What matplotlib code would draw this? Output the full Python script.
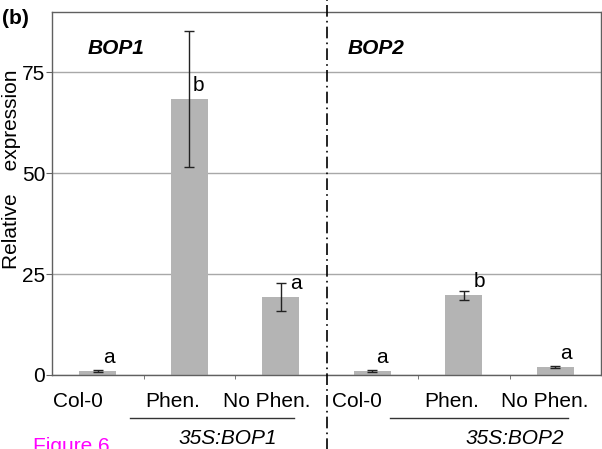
import numpy as np
import matplotlib.pyplot as plt
from matplotlib.transforms import blended_transform_factory

plt.rcParams['font.family'] = ['Liberation Sans', 'DejaVu Sans']

# qRT-PCR: relative expression of BOP1 / BOP2
genes = ['BOP1', 'BOP2']
lines = ['Col-0', 'Phen.', 'No Phen.', 'Col-0', 'Phen.', 'No Phen.']
expr = [1.0, 68.3, 19.3, 1.0, 19.7, 2.0]
err = [0.3, 16.8, 3.5, 0.2, 1.1, 0.3]
letters = ['a', 'b', 'a', 'a', 'b', 'a']
transgenes = ['35S:BOP1', '35S:BOP2']

fs = 15

fig = plt.figure(figsize=(6.02, 4.49), dpi=100)
ax = fig.add_axes([52 / 602, 74 / 449, 549 / 602, 363 / 449])

x = np.arange(len(lines))
ax.bar(x, expr, width=0.4, color='#b4b4b4', zorder=2)
ax.errorbar(x, expr, yerr=err, fmt='none', ecolor='#222222', elinewidth=1,
            capsize=3.5, capthick=1, zorder=3)

# significance letters, nudged right of the error bars
nudge = [0.12, 0.1, 0.17, 0.11, 0.17, 0.12]
for xi, v, l, dx in zip(x, expr, letters, nudge):
    ax.text(xi + dx, v + 1.0, l, ha='center', va='bottom', fontsize=fs)

ax.set_xlim(-0.5, 5.5)
ax.set_ylim(0, 89.9)
ax.set_yticks([0, 25, 50, 75])
ax.yaxis.grid(True, color='#a8a8a8', lw=1)
ax.set_axisbelow(True)
ax.tick_params(axis='y', labelsize=fs, length=4, color='#606060', pad=1)

# category labels sit a little left of the bars
label_shift = [-0.22, -0.185, -0.15, -0.165, -0.13, -0.12]
ax.set_xticks(x + np.array(label_shift))
ax.set_xticklabels(lines, fontsize=fs)
ax.tick_params(axis='x', which='major', length=0, pad=12)
ax.set_xticks([0.5, 1.5, 3.5, 4.5], minor=True)
ax.tick_params(axis='x', which='minor', length=3, color='#606060')

for s in ax.spines.values():
    s.set_color('#606060')
    s.set_linewidth(1)

ax.set_ylabel('Relative    expression', fontsize=fs)
ax.yaxis.set_label_coords(-0.056, 0.567)

# dash-dot separator between the two genes
tr = blended_transform_factory(ax.transData, ax.transAxes)
ax.plot([2.5, 2.5], [-0.21, 1.04], transform=tr, clip_on=False, color='black',
        lw=1.2, dashes=(7, 2.5, 1, 2.5), zorder=5)

# gene names inside the panels
ax.text(0.064, 0.9, genes[0], transform=ax.transAxes, fontsize=fs,
        fontweight='bold', style='italic', ha='left', va='center')
ax.text(0.538, 0.9, genes[1], transform=ax.transAxes, fontsize=fs,
        fontweight='bold', style='italic', ha='left', va='center')

# transgene underlines + labels
spans = [(0.35, 2.15, 1.42), (3.19, 5.14, 4.56)]
for (x0, x1, xt), name in zip(spans, transgenes):
    ax.plot([x0, x1], [-0.118, -0.118], transform=tr, clip_on=False,
            color='#333333', lw=1)
    ax.text(xt, -0.175, name, transform=tr, fontsize=fs, style='italic',
            ha='center', va='center')

fig.text(2 / 602, 1 - 18 / 449, '(b)', fontsize=fs, fontweight='bold',
         ha='left', va='center')
fig.text(33 / 602, -3 / 449, 'Figure 6', fontsize=15, color='#ff00ff',
         ha='left', va='baseline')

fig.savefig('out.png', dpi=100)
